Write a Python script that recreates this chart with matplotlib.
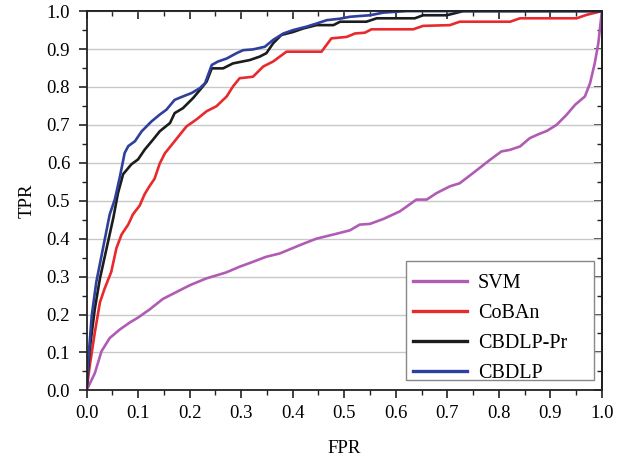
import matplotlib
matplotlib.use("Agg")
import matplotlib.pyplot as plt
from matplotlib.ticker import MultipleLocator
from matplotlib.patches import Rectangle

plt.rcParams['font.family'] = ['Liberation Serif', 'DejaVu Serif']

# ---- data ----
svm_x = [0, 0.016, 0.029, 0.045, 0.065, 0.084, 0.1, 0.123, 0.148, 0.174, 0.2, 0.232, 0.271,
         0.297, 0.323, 0.348, 0.375, 0.414, 0.446, 0.485, 0.511, 0.530, 0.550, 0.576, 0.608,
         0.640, 0.660, 0.679, 0.705, 0.724, 0.750, 0.783, 0.805, 0.821, 0.841, 0.860, 0.878,
         0.893, 0.912, 0.931, 0.948, 0.967, 0.977, 0.986, 0.993, 1.0]
svm_y = [0, 0.045, 0.103, 0.138, 0.161, 0.179, 0.192, 0.214, 0.241, 0.259, 0.277, 0.295, 0.311,
         0.326, 0.339, 0.352, 0.361, 0.383, 0.400, 0.413, 0.422, 0.437, 0.439, 0.452, 0.472,
         0.503, 0.503, 0.520, 0.538, 0.546, 0.573, 0.608, 0.630, 0.634, 0.643, 0.665, 0.676,
         0.684, 0.700, 0.726, 0.753, 0.775, 0.81, 0.862, 0.915, 1.0]

coban_x = [0, 0.006, 0.016, 0.026, 0.035, 0.048, 0.058, 0.068, 0.081, 0.09, 0.103, 0.113, 0.123,
           0.132, 0.142, 0.152, 0.168, 0.194, 0.213, 0.233, 0.252, 0.272, 0.284, 0.297, 0.323,
           0.343, 0.362, 0.388, 0.456, 0.475, 0.505, 0.521, 0.540, 0.553, 0.634, 0.653, 0.705,
           0.724, 0.822, 0.841, 0.951, 0.970, 1.0]
coban_y = [0, 0.0625, 0.152, 0.232, 0.268, 0.3125, 0.375, 0.411, 0.4375, 0.464, 0.487, 0.518, 0.540,
           0.558, 0.598, 0.625, 0.652, 0.696, 0.714, 0.736, 0.749, 0.775, 0.801, 0.823, 0.827,
           0.854, 0.867, 0.893, 0.893, 0.928, 0.932, 0.941, 0.943, 0.952, 0.952, 0.961, 0.963,
           0.972, 0.972, 0.981, 0.981, 0.990, 1.0]

pr_x = [0, 0.006, 0.016, 0.026, 0.039, 0.052, 0.061, 0.071, 0.087, 0.1, 0.113, 0.129, 0.142,
        0.162, 0.171, 0.187, 0.207, 0.223, 0.233, 0.243, 0.265, 0.284, 0.317, 0.336, 0.349,
        0.362, 0.378, 0.401, 0.420, 0.446, 0.479, 0.492, 0.543, 0.563, 0.637, 0.653, 0.699,
        0.731, 1.0]
pr_y = [0, 0.107, 0.214, 0.295, 0.375, 0.455, 0.520, 0.570, 0.596, 0.609, 0.635, 0.661, 0.683,
        0.705, 0.731, 0.744, 0.771, 0.797, 0.814, 0.849, 0.849, 0.862, 0.871, 0.880, 0.889,
        0.915, 0.937, 0.945, 0.954, 0.963, 0.963, 0.972, 0.972, 0.981, 0.981, 0.989, 0.989,
        1.0, 1.0]

cb_x = [0, 0.003, 0.01, 0.019, 0.032, 0.045, 0.055, 0.065, 0.074, 0.081, 0.094, 0.107, 0.126,
        0.142, 0.155, 0.171, 0.187, 0.204, 0.220, 0.230, 0.243, 0.255, 0.272, 0.291, 0.304,
        0.323, 0.346, 0.362, 0.382, 0.401, 0.427, 0.446, 0.466, 0.492, 0.511, 0.530, 0.55,
        0.576, 0.621, 1.0]
cb_y = [0, 0.071, 0.196, 0.286, 0.375, 0.464, 0.504, 0.565, 0.626, 0.644, 0.657, 0.683, 0.709,
        0.727, 0.740, 0.766, 0.775, 0.784, 0.797, 0.81, 0.858, 0.867, 0.875, 0.889, 0.897,
        0.899, 0.906, 0.924, 0.941, 0.950, 0.959, 0.967, 0.976, 0.980, 0.985, 0.987, 0.989,
        0.996, 1.0, 1.0]

labels = ['SVM', 'CoBAn', 'CBDLP-Pr', 'CBDLP']
colors = ['#b05cb4', '#e82a2c', '#1c1c1c', '#2e3f9c']
ticks = [0.0, 0.1, 0.2, 0.3, 0.4, 0.5, 0.6, 0.7, 0.8, 0.9, 1.0]
tick_labels = ['0.0', '0.1', '0.2', '0.3', '0.4', '0.5', '0.6', '0.7', '0.8', '0.9', '1.0']

fig = plt.figure(figsize=(6.27, 4.62), dpi=100)
ax = fig.add_axes([0.138, 0.155, 0.822, 0.821])

for (xs, ys), lab, c in zip([(svm_x, svm_y), (coban_x, coban_y), (pr_x, pr_y), (cb_x, cb_y)],
                            labels, colors):
    ax.plot(xs, ys, color=c, lw=1.9, label=lab, solid_joinstyle='round')

ax.set_xlim(0, 1)
ax.set_ylim(0, 1)
ax.set_xticks(ticks)
ax.set_yticks(ticks)
ax.set_xticklabels(tick_labels)
ax.set_yticklabels(tick_labels)
ax.xaxis.set_minor_locator(MultipleLocator(0.05))
ax.yaxis.set_minor_locator(MultipleLocator(0.05))
ax.grid(axis='y', which='major', color='#c8c8c8', lw=1.0)
ax.set_axisbelow(True)

for s in ax.spines.values():
    s.set_linewidth(1.3)
    s.set_color('#222222')

ax.tick_params(axis='both', which='both', labelsize=13.5, color='#222222')
ax.tick_params(axis='x', which='major', direction='out', length=5.8, width=1.2, top=False, pad=5)
ax.tick_params(axis='x', which='minor', direction='out', length=3.6, width=1.0, top=False)
ax.tick_params(axis='y', which='major', direction='out', length=5.8, width=1.2, right=False, pad=6)
ax.tick_params(axis='y', which='minor', direction='out', length=3.6, width=1.0, right=False)

# top and right ticks point inward
sec_x = ax.secondary_xaxis('top')
sec_x.set_xticks(ticks)
sec_x.xaxis.set_minor_locator(MultipleLocator(0.05))
sec_x.tick_params(which='major', direction='in', length=5.8, width=1.2, labeltop=False, color='#222222')
sec_x.tick_params(which='minor', direction='in', length=3.6, width=1.0, color='#222222')
sec_x.spines['top'].set_linewidth(1.3)
sec_y = ax.secondary_yaxis('right')
sec_y.set_yticks(ticks)
sec_y.yaxis.set_minor_locator(MultipleLocator(0.05))
sec_y.tick_params(which='major', direction='in', length=5.8, width=1.2, labelright=False, color='#222222')
sec_y.tick_params(which='minor', direction='in', length=3.6, width=1.0, color='#222222')
sec_y.spines['right'].set_linewidth(1.3)

ax.set_xlabel('FPR', fontsize=13.5, labelpad=13)
ax.set_ylabel('TPR', fontsize=13.5, labelpad=8)

# legend frame drawn separately (more padding on top than bottom, as in the original)
frame = Rectangle((0.619, 0.0277), 0.366, 0.3143, transform=ax.transAxes,
                  facecolor='white', edgecolor='#888888', lw=1.0, zorder=4.5)
ax.add_patch(frame)

leg = ax.legend(loc='upper left', bbox_to_anchor=(0.634, 0.308), borderaxespad=0,
                fontsize=14.5, frameon=False, handlelength=2.65, handletextpad=0.56,
                labelspacing=0.547, borderpad=0)
leg.set_zorder(5)
for h in leg.get_lines():
    h.set_linewidth(2.4)

fig.savefig('out.png', dpi=100)
